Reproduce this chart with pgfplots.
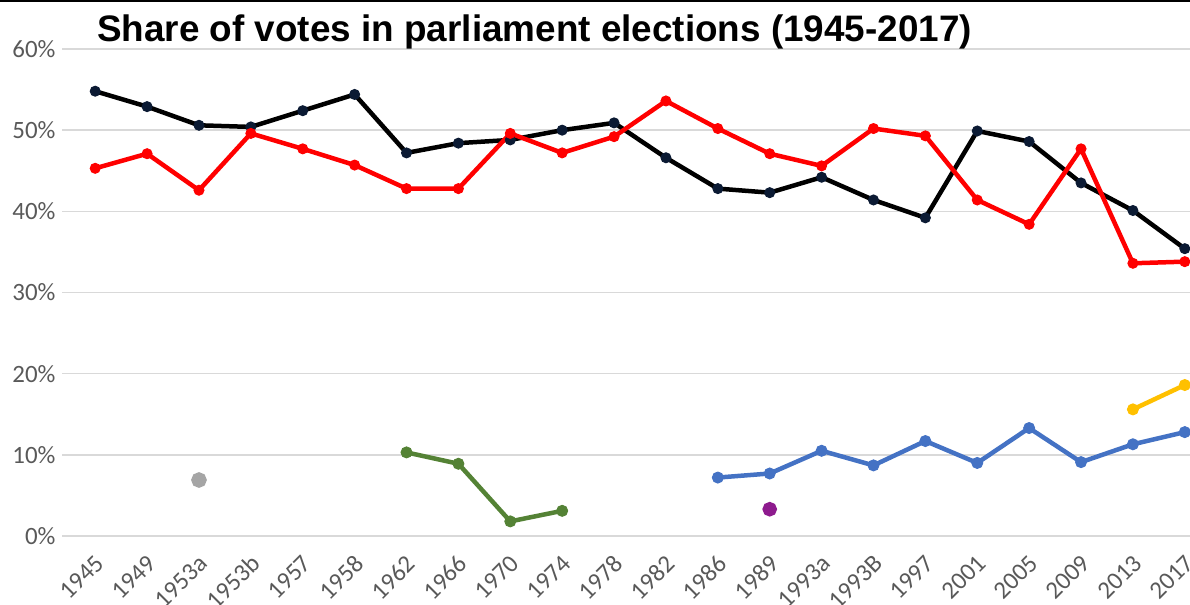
\documentclass[border=0pt]{standalone}
\usepackage{pgfplots}
\pgfplotsset{compat=1.18}
\usepackage{fontspec}
\setmainfont{Carlito}
\newfontfamily\titlefont{Liberation Sans}
\definecolor{gridc}{HTML}{D9D9D9}
\definecolor{tickc}{HTML}{595959}
\definecolor{cnavy}{HTML}{0B1A33}
\definecolor{cred}{HTML}{FF0000}
\definecolor{cgreen}{HTML}{548235}
\definecolor{cblue}{HTML}{4472C4}
\definecolor{cyellow}{HTML}{FFC000}
\definecolor{cgray}{HTML}{A5A5A5}
\definecolor{cpurple}{HTML}{8E1B8E}
\begin{document}
\begin{tikzpicture}
\path[use as bounding box] (0bp,0bp) rectangle (1190bp,605bp);
\begin{axis}[at={(62bp,69bp)}, anchor=south west, scale only axis,
  width=1128bp, height=487bp,
  xmin=-0.64, xmax=21.1, ymin=0, ymax=60,
  axis line style={draw=none}, major tick length=0pt,
  ymajorgrids, grid style={color=gridc, line width=1.5bp},
  ytick={0,10,20,30,40,50,60},
  yticklabels={0\%,10\%,20\%,30\%,40\%,50\%,60\%},
  yticklabel style={font=\fontsize{25}{26}\selectfont, text=tickc, anchor=east, xshift=-3bp},
  xtick={0,...,21},
  xticklabels={1945,1949,1953a,1953b,1957,1958,1962,1966,1970,1974,1978,1982,1986,1989,1993a,1993B,1997,2001,2005,2009,2013,2017},
  xticklabel style={font=\fontsize{25}{26}\selectfont, text=tickc, xshift=7bp, yshift=-21bp, rotate=45, anchor=east},
  clip=false,
  every axis plot/.append style={line width=4.5bp, mark=*, mark size=5bp},
]
% black
\addplot[black, mark options={fill=cnavy, draw=cnavy, line width=1bp}] coordinates {
(0,54.8)(1,52.9)(2,50.6)(3,50.4)(4,52.4)(5,54.4)(6,47.2)(7,48.4)(8,48.8)(9,50.0)(10,50.9)
(11,46.6)(12,42.8)(13,42.3)(14,44.2)(15,41.4)(16,39.2)(17,49.9)(18,48.6)(19,43.5)(20,40.1)(21,35.4)};
% red
\addplot[cred, mark options={fill=cred, draw=cred, line width=1bp}] coordinates {
(0,45.3)(1,47.1)(2,42.6)(3,49.6)(4,47.7)(5,45.7)(6,42.8)(7,42.8)(8,49.6)(9,47.2)(10,49.2)
(11,53.6)(12,50.2)(13,47.1)(14,45.6)(15,50.2)(16,49.3)(17,41.4)(18,38.4)(19,47.7)(20,33.6)(21,33.8)};
% green
\addplot[cgreen, mark options={fill=cgreen, draw=cgreen, line width=1bp}, mark size=5.5bp] coordinates {
(6,10.3)(7,8.9)(8,1.8)(9,3.1)};
% blue
\addplot[cblue, mark options={fill=cblue, draw=cblue, line width=1bp}, mark size=5.5bp] coordinates {
(12,7.2)(13,7.7)(14,10.5)(15,8.7)(16,11.7)(17,9.0)(18,13.3)(19,9.1)(20,11.3)(21,12.8)};
% yellow
\addplot[cyellow, mark options={fill=cyellow, draw=cyellow, line width=1bp}, mark size=5.5bp] coordinates {
(20,15.6)(21,18.6)};
% gray single
\addplot[only marks, mark=*, mark size=5.5bp, mark options={fill=cgray, draw=cgray}] coordinates {(2,6.9)};
% purple single
\addplot[only marks, mark=*, mark size=5bp, mark options={fill=cpurple, draw=cpurple}] coordinates {(13,3.3)};
\end{axis}
\draw[line width=2bp] (0bp,604bp) -- (1190bp,604bp);
\node[anchor=base west, inner sep=0pt, font=\titlefont\bfseries\fontsize{37}{40}\selectfont] at (97bp,563bp) {Share of votes in parliament elections (1945-2017)};
\end{tikzpicture}
\end{document}
